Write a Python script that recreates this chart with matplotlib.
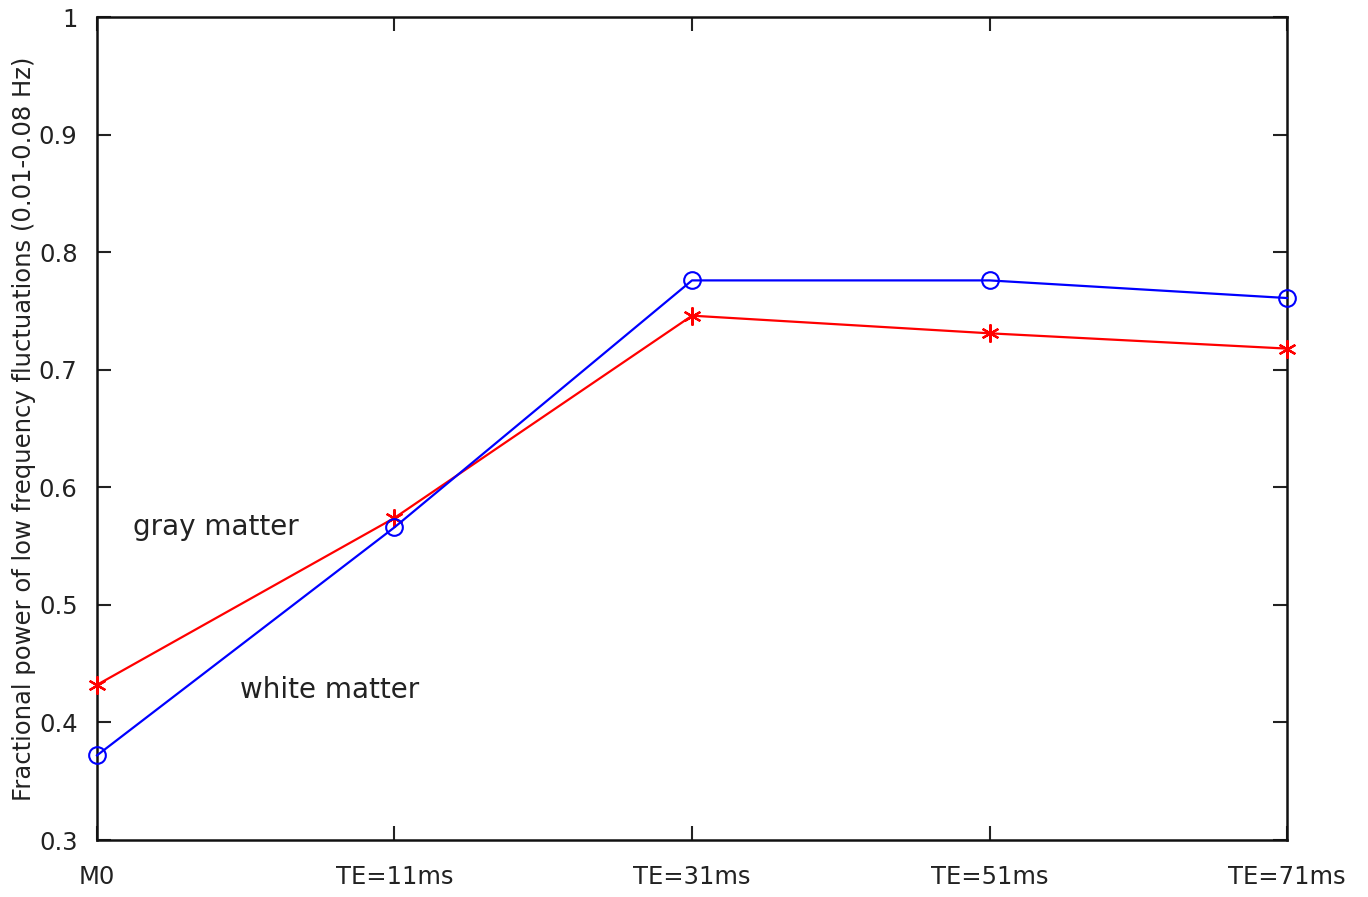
import matplotlib.pyplot as plt

conditions = ['M0', 'TE=11ms', 'TE=31ms', 'TE=51ms', 'TE=71ms']
gray_matter = [0.432, 0.574, 0.746, 0.731, 0.718]
white_matter = [0.372, 0.566, 0.776, 0.776, 0.761]

fig = plt.figure(figsize=(13.68, 8.97), dpi=100)
ax = fig.add_axes([0.0709, 0.0635, 0.8699, 0.9175])

x = list(range(len(conditions)))
# asterisk marker like matlab '*'
ax.plot(x, gray_matter, color='red', marker=(6, 2, 0), markersize=13,
        markeredgewidth=1.6, linewidth=1.6, clip_on=False, zorder=3)
ax.plot(x, white_matter, color='blue', marker='o', markersize=12,
        markerfacecolor='none', markeredgewidth=1.5, linewidth=1.6,
        clip_on=False, zorder=3)

ax.text(0.12, 0.566, 'gray matter', fontsize=20, va='center', color='#222222')
ax.text(0.48, 0.428, 'white matter', fontsize=20, va='center', color='#222222')

ax.set_xlim(0, 4)
ax.set_ylim(0.3, 1)
ax.set_xticks(x)
ax.set_xticklabels(conditions)
ax.set_yticks([0.3, 0.4, 0.5, 0.6, 0.7, 0.8, 0.9, 1])
ax.set_yticklabels(['0.3', '0.4', '0.5', '0.6', '0.7', '0.8', '0.9', '1'])
ax.tick_params(direction='in', length=10, width=1.5, labelsize=17.5, colors='#222222',
               top=True, right=True)
ax.tick_params(axis='x', pad=18)
ax.tick_params(axis='y', pad=14)
for s in ax.spines.values():
    s.set_linewidth(1.8)
    s.set_color('#111111')

ax.set_ylabel('Fractional power of low frequency fluctuations (0.01-0.08 Hz)',
              fontsize=17.5, color='#222222', labelpad=2)

fig.savefig('out.png', dpi=100)
